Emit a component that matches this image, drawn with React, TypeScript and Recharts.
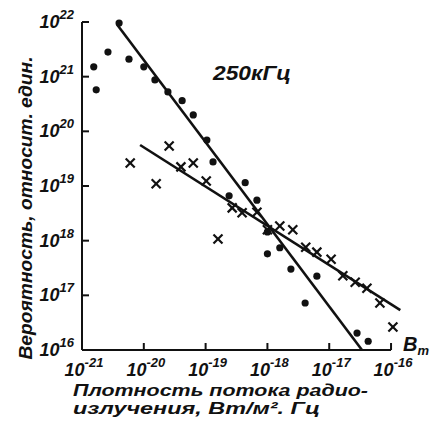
import { ComposedChart, Customized, Line, ReferenceLine, Scatter, XAxis, YAxis } from 'recharts'

// оси в log10
const X_TICKS = [-21, -20, -19, -18, -17, -16]
const Y_TICKS = [16, 17, 18, 19, 20, 21, 22]

// точки (кружки)
const dotLogX = [
  -20.4, -20.58, -20.81, -20.77, -20.24, -20.0, -19.82, -19.61, -19.38, -19.2, -18.98, -18.88,
  -18.36, -18.62, -18.17, -18.0, -17.8, -18.0, -17.62, -17.2, -17.39, -16.55, -16.37,
]
const dotLogY = [
  21.98, 21.45, 21.18, 20.76, 21.32, 21.18, 20.94, 20.72, 20.56, 20.3, 19.84, 19.44,
  19.06, 18.82, 18.74, 18.16, 17.87, 17.76, 17.48, 17.35, 16.86, 16.31, 16.16,
]

// крестики
const crossLogX = [
  -20.22, -19.59, -19.8, -19.4, -19.2, -18.99, -18.8, -18.57, -18.41, -18.17, -18.0,
  -17.8, -17.59, -17.38, -17.2, -16.97, -16.78, -16.58, -16.39, -16.18, -15.97,
]
const crossLogY = [
  19.42, 19.73, 19.04, 19.35, 19.42, 19.09, 18.03, 18.6, 18.51, 18.52, 18.2,
  18.27, 18.2, 17.88, 17.79, 17.66, 17.36, 17.24, 17.13, 16.86, 16.42,
]

// прямые
const steepLogX = [-20.43, -16.47]
const steepLogY = [21.95, 16.0]
const shallowLogX = [-20.06, -15.85]
const shallowLogY = [19.75, 16.73]

const pts = (xs: number[], ys: number[]) => xs.map((x, i) => ({ x, y: ys[i] }))

const dots = pts(dotLogX, dotLogY)
const crosses = pts(crossLogX, crossLogY)
const steep = pts(steepLogX, steepLogY)
const shallow = pts(shallowLogX, shallowLogY)

const INK = '#111'
const FONT = '"Liberation Sans", Arial, sans-serif'
const txt = { fontFamily: FONT, fontStyle: 'italic', fontWeight: 700, fill: INK } as const

function XTick({ x, y, payload }: any) {
  const v = payload.value
  return (
    <g>
      {v > -21 && <line x1={x} x2={x} y1={y} y2={y - 7} stroke={INK} strokeWidth={2} />}
      <text x={x + 2} y={y + 26} textAnchor="middle" fontSize={18} {...txt}>
        10
        <tspan dy={-9} fontSize={13}>{`-${-v}`}</tspan>
      </text>
    </g>
  )
}

function YTick({ x, y, payload }: any) {
  return (
    <g>
      <line x1={x} x2={x + 7} y1={y} y2={y} stroke={INK} strokeWidth={2} />
      <text x={x - 8} y={y + 6} textAnchor="end" fontSize={18} {...txt}>
        10
        <tspan dy={-9} fontSize={13}>{payload.value}</tspan>
      </text>
    </g>
  )
}

const Dot = ({ cx, cy }: any) => <circle cx={cx} cy={cy} r={3.6} fill={INK} />

const Cross = ({ cx, cy }: any) => (
  <g stroke={INK} strokeWidth={2.2}>
    <line x1={cx - 4.5} y1={cy - 4.5} x2={cx + 4.5} y2={cy + 4.5} />
    <line x1={cx - 4.5} y1={cy + 4.5} x2={cx + 4.5} y2={cy - 4.5} />
  </g>
)

function Annotations() {
  return (
    <g>
      <text x={213} y={80} fontSize={20} textLength={78} lengthAdjust="spacingAndGlyphs" {...txt}>
        250кГц
      </text>
      <text x={403} y={351} fontSize={20} {...txt}>
        В<tspan dy={4} fontSize={13}>т</tspan>
      </text>
      <text
        transform="translate(32,208) rotate(-90)"
        textAnchor="middle"
        fontSize={19}
        textLength={303}
        lengthAdjust="spacingAndGlyphs"
        {...txt}
      >
        Вероятность, относит. един.
      </text>
      <text x={73} y={396} fontSize={17} textLength={295} lengthAdjust="spacingAndGlyphs" {...txt}>
        Плотность потока радио-
      </text>
      <text x={73} y={414} fontSize={17} textLength={247} lengthAdjust="spacingAndGlyphs" {...txt}>
        излучения, Вт/м². Гц
      </text>
    </g>
  )
}

export default function App() {
  return (
    <div style={{ position: 'absolute', left: 0, top: 0, width: 430, height: 425, background: '#fff' }}>
      <ComposedChart width={430} height={425} margin={{ top: 22, right: 26.6, bottom: 0, left: 0 }}>
        <XAxis
          type="number"
          dataKey="x"
          domain={[-21, -15.8]}
          ticks={X_TICKS}
          interval={0}
          height={75}
          axisLine={false}
          tickLine={false}
          tickSize={0}
          tickMargin={0}
          tick={(p: any) => <XTick {...p} />}
        />
        <YAxis
          type="number"
          dataKey="y"
          domain={[16, 22]}
          ticks={Y_TICKS}
          interval={0}
          width={82}
          axisLine={{ stroke: INK, strokeWidth: 2 }}
          tickLine={false}
          tickSize={0}
          tickMargin={0}
          tick={(p: any) => <YTick {...p} />}
        />
        <ReferenceLine
          segment={[
            { x: -21, y: 16 },
            { x: -16, y: 16 },
          ]}
          stroke={INK}
          strokeWidth={2}
        />
        <Line data={steep} dataKey="y" type="linear" stroke={INK} strokeWidth={2.6} dot={false} isAnimationActive={false} />
        <Line data={shallow} dataKey="y" type="linear" stroke={INK} strokeWidth={2.6} dot={false} isAnimationActive={false} />
        <Scatter data={dots} dataKey="y" shape={<Dot />} isAnimationActive={false} />
        <Scatter data={crosses} dataKey="y" shape={<Cross />} isAnimationActive={false} />
        <Customized component={<Annotations />} />
      </ComposedChart>
    </div>
  )
}
